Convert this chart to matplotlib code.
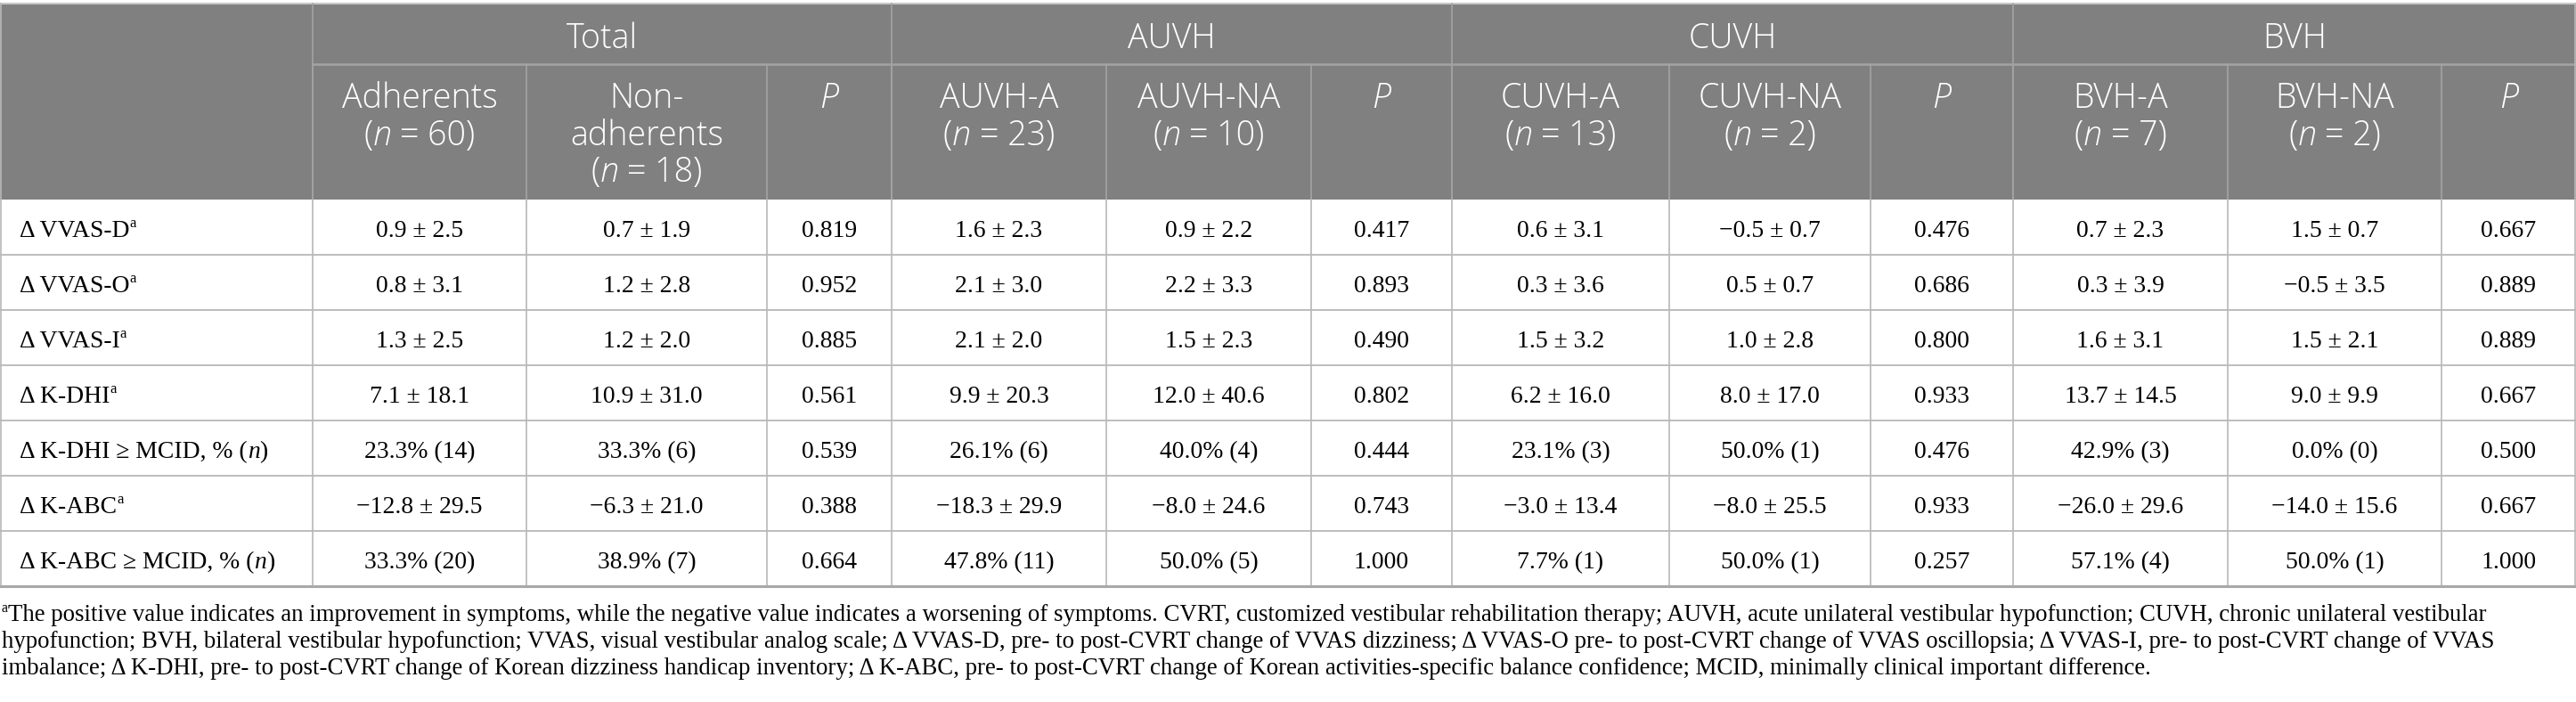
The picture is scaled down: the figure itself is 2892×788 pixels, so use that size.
import matplotlib
matplotlib.use("Agg")
import matplotlib.pyplot as plt
from matplotlib.patches import Rectangle

# ---- table content -------------------------------------------------------
groups = ["Total", "AUVH", "CUVH", "BVH"]
sub_names = [["Adherents"], ["Non-", "adherents"], None,
             ["AUVH-A"], ["AUVH-NA"], None,
             ["CUVH-A"], ["CUVH-NA"], None,
             ["BVH-A"], ["BVH-NA"], None]
sub_n = [60, 18, None, 23, 10, None, 13, 2, None, 7, 2, None]

row_labels = ["Δ VVAS-D", "Δ VVAS-O", "Δ VVAS-I", "Δ K-DHI",
              "Δ K-DHI ≥ MCID, % (n)", "Δ K-ABC", "Δ K-ABC ≥ MCID, % (n)"]
row_sup = [True, True, True, True, False, True, False]

vvas_d = ["0.9 ± 2.5", "0.7 ± 1.9", "0.819", "1.6 ± 2.3", "0.9 ± 2.2", "0.417",
          "0.6 ± 3.1", "−0.5 ± 0.7", "0.476", "0.7 ± 2.3", "1.5 ± 0.7", "0.667"]
vvas_o = ["0.8 ± 3.1", "1.2 ± 2.8", "0.952", "2.1 ± 3.0", "2.2 ± 3.3", "0.893",
          "0.3 ± 3.6", "0.5 ± 0.7", "0.686", "0.3 ± 3.9", "−0.5 ± 3.5", "0.889"]
vvas_i = ["1.3 ± 2.5", "1.2 ± 2.0", "0.885", "2.1 ± 2.0", "1.5 ± 2.3", "0.490",
          "1.5 ± 3.2", "1.0 ± 2.8", "0.800", "1.6 ± 3.1", "1.5 ± 2.1", "0.889"]
k_dhi = ["7.1 ± 18.1", "10.9 ± 31.0", "0.561", "9.9 ± 20.3", "12.0 ± 40.6", "0.802",
         "6.2 ± 16.0", "8.0 ± 17.0", "0.933", "13.7 ± 14.5", "9.0 ± 9.9", "0.667"]
k_dhi_mcid = ["23.3% (14)", "33.3% (6)", "0.539", "26.1% (6)", "40.0% (4)", "0.444",
              "23.1% (3)", "50.0% (1)", "0.476", "42.9% (3)", "0.0% (0)", "0.500"]
k_abc = ["−12.8 ± 29.5", "−6.3 ± 21.0", "0.388", "−18.3 ± 29.9", "−8.0 ± 24.6", "0.743",
         "−3.0 ± 13.4", "−8.0 ± 25.5", "0.933", "−26.0 ± 29.6", "−14.0 ± 15.6", "0.667"]
k_abc_mcid = ["33.3% (20)", "38.9% (7)", "0.664", "47.8% (11)", "50.0% (5)", "1.000",
              "7.7% (1)", "50.0% (1)", "0.257", "57.1% (4)", "50.0% (1)", "1.000"]
rows = [vvas_d, vvas_o, vvas_i, k_dhi, k_dhi_mcid, k_abc, k_abc_mcid]

footnote = [
    "The positive value indicates an improvement in symptoms, while the negative value indicates a worsening of symptoms. "
    "CVRT, customized vestibular rehabilitation therapy; AUVH, acute unilateral vestibular hypofunction; CUVH, chronic unilateral vestibular",
    "hypofunction; BVH, bilateral vestibular hypofunction; VVAS, visual vestibular analog scale; Δ VVAS-D, pre- to post-CVRT change of VVAS "
    "dizziness; Δ VVAS-O pre- to post-CVRT change of VVAS oscillopsia; Δ VVAS-I, pre- to post-CVRT change of VVAS",
    "imbalance; Δ K-DHI, pre- to post-CVRT change of Korean dizziness handicap inventory; Δ K-ABC, pre- to post-CVRT change of "
    "Korean activities-specific balance confidence; MCID, minimally clinical important difference.",
]

# ---- layout (pixels) -----------------------------------------------------
W, H, DPI = 2892, 788, 100
col_edges = [0, 351, 591, 861, 1001, 1242, 1472, 1630, 1874, 2100, 2260, 2501, 2741, 2892]
group_edges = [351, 1001, 1630, 2260, 2892]
y_top, y_group, y_head = 4, 72, 224
row_h = 62
SERIF, SANS = "Liberation Serif", "Open Sans"
HEAD_BG, HEAD_LINE, GRID = "#808080", "#a3a3a3", "#b8b8b8"

fig = plt.figure(figsize=(W / DPI, H / DPI), dpi=DPI)
ax = fig.add_axes([0, 0, 1, 1])
ax.set_xlim(0, W)
ax.set_ylim(H, 0)
ax.axis("off")
R = fig.canvas.get_renderer()


def text_width(s, size, family, style="normal", weight="normal"):
    t = ax.text(0, 0, s, fontsize=size, family=family, style=style, weight=weight)
    w = t.get_window_extent(renderer=R).width
    t.remove()
    return w


def fit_size(s, family, target, weight="normal"):
    # font size that gives the width measured on the reference
    return 20 * target / text_width(s, 20, family, weight=weight)


HEAD_W = "light"
head_size = fit_size("Adherents", SANS, 175, HEAD_W)
body_size = fit_size("0.9 ± 2.5", SERIF, 98)
foot_size = fit_size(footnote[0], SERIF, 2784)


def draw_runs(x, y, runs, size, family, color="black", ha="center", weight="normal"):
    # runs: (text, kind) with kind 'n' normal, 'i' italic, 's' superscript
    sp = text_width("x x", size, family, weight=weight) - text_width("xx", size, family, weight=weight)
    parts, total = [], 0
    for s, kind in runs:
        core = s.strip(" ")
        lead = (len(s) - len(s.lstrip(" "))) * sp
        trail = (len(s) - len(s.rstrip(" "))) * sp
        fs = size * 0.6 if kind == "s" else size
        st = "italic" if kind == "i" else "normal"
        w = text_width(core, fs, family, st, weight) if core else 0
        parts.append((core, fs, st, kind, lead, w, trail))
        total += lead + w + trail
    cx = x - total / 2 if ha == "center" else x
    for core, fs, st, kind, lead, w, trail in parts:
        cx += lead
        yy = y - size * DPI / 72 * 0.38 if kind == "s" else y
        if core:
            ax.text(cx, yy, core, fontsize=fs, family=family, style=st, color=color,
                    weight=weight, ha="left", va="baseline")
        cx += w + trail


def split_n(label):
    # turn "... (n)" into runs with italic n
    if label.endswith("(n)"):
        return [(label[:-2], "n"), ("n", "i"), (")", "n")]
    return [(label, "n")]


# header background
ax.add_patch(Rectangle((0, y_top), W, y_head - y_top, facecolor=HEAD_BG, edgecolor="none"))
ax.plot([0, W], [y_top, y_top], color="#c8c8c8", lw=1.5)
ax.plot([group_edges[0], W], [y_group, y_group], color=HEAD_LINE, lw=1.8)
for x in group_edges[:-1]:
    ax.plot([x, x], [y_top, y_head], color=HEAD_LINE, lw=1.2)
for x in col_edges[1:-1]:
    ax.plot([x, x], [y_group, y_head], color=HEAD_LINE, lw=1.2)

for g, name in enumerate(groups):
    cx = (group_edges[g] + group_edges[g + 1]) / 2
    draw_runs(cx, 54, [(name, "n")], head_size, SANS, "white", weight=HEAD_W)

line_gap = 41.5
for j in range(12):
    cx = (col_edges[j + 1] + col_edges[j + 2]) / 2
    y = 121
    if sub_names[j] is None:
        draw_runs(cx, y, [("P", "i")], head_size, SANS, "white", weight=HEAD_W)
        continue
    for part in sub_names[j]:
        draw_runs(cx, y, [(part, "n")], head_size, SANS, "white", weight=HEAD_W)
        y += line_gap
    draw_runs(cx, y, [("(", "n"), ("n", "i"), (" = %d)" % sub_n[j], "n")],
              head_size, SANS, "white", weight=HEAD_W)

# body
for i, (label, vals) in enumerate(zip(row_labels, rows)):
    top = y_head + i * row_h
    base = top + 42
    runs = split_n(label)
    if row_sup[i]:
        runs = runs + [("a", "s")]
    draw_runs(22, base, runs, body_size, SERIF, ha="left")
    for j, v in enumerate(vals):
        cx = (col_edges[j + 1] + col_edges[j + 2]) / 2
        draw_runs(cx, base, [(v, "n")], body_size, SERIF)
    if i > 0:
        ax.plot([0, W], [top, top], color=GRID, lw=1.3)

y_bot = y_head + len(rows) * row_h
for x in col_edges[1:-1]:
    ax.plot([x, x], [y_head, y_bot], color=GRID, lw=1.2)
ax.plot([0.7, 0.7], [y_top, y_bot], color=GRID, lw=1.2)
ax.plot([W - 0.7, W - 0.7], [y_top, y_bot], color=GRID, lw=1.2)
ax.plot([0, W], [y_bot, y_bot], color="#a8a8a8", lw=2.2)

# footnote
fy = [697, 727, 757]
draw_runs(2, fy[0], [("a", "s"), (footnote[0], "n")], foot_size, SERIF, ha="left")
draw_runs(2, fy[1], [(footnote[1], "n")], foot_size, SERIF, ha="left")
draw_runs(2, fy[2], [(footnote[2], "n")], foot_size, SERIF, ha="left")

fig.savefig("out.png", dpi=DPI)
